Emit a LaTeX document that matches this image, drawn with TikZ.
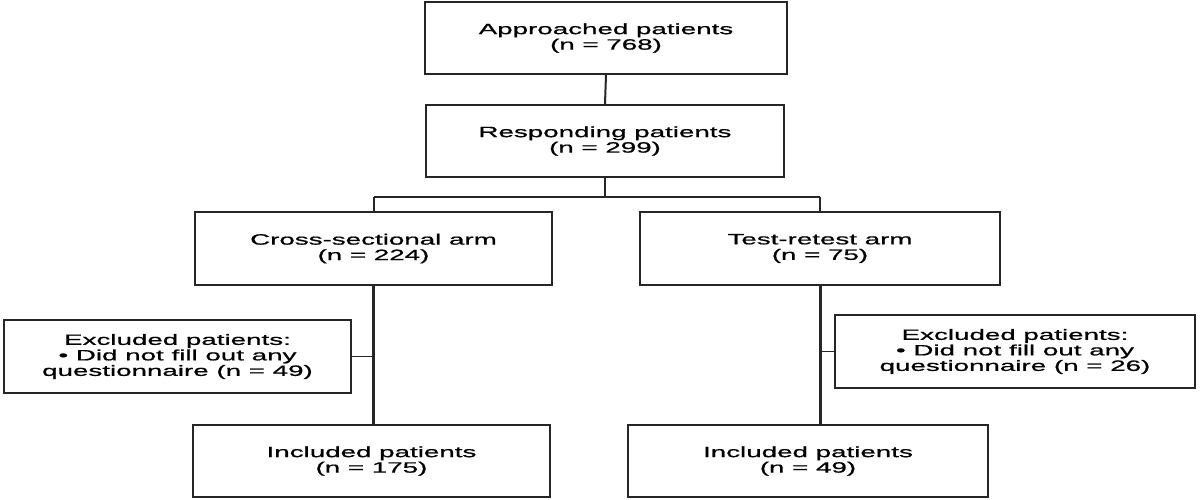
\documentclass[tikz,border=0pt]{standalone}
\usepackage{fontspec}
\setmainfont[FakeStretch=1.85,FakeBold=0.8]{Liberation Sans}
\begin{document}
\begin{tikzpicture}[x=1pt,y=-1pt,
  box/.style={draw=black!85, line width=2pt, rectangle, align=center,
    inner sep=0pt, font=\fontsize{15}{15.5}\selectfont},
  conn/.style={draw=black!85, line width=2pt},
  thick conn/.style={draw=black!85, line width=3pt},
  thin conn/.style={draw=black!85, line width=1.3pt}]
\useasboundingbox (0,0) rectangle (1200,500);
\fill[white] (0,0) rectangle (1200,500);

\node[box, minimum width=362pt, minimum height=72pt] (app) at (606,38)
  {Approached patients\\(n = 768)};
\node[box, minimum width=358pt, minimum height=72pt] (resp) at (605,141)
  {Responding patients\\(n = 299)};
\node[box, minimum width=357pt, minimum height=73pt] (cross) at (373.5,248.5)
  {Cross-sectional arm\\(n = 224)};
\node[box, minimum width=360pt, minimum height=73pt] (test) at (820,248.5)
  {Test-retest arm\\(n = 75)};
\node[box, minimum width=347pt, minimum height=73pt] (exl) at (177.5,356.5)
  {Excluded patients:\\• Did not fill out any\\questionnaire (n = 49)};
\node[box, minimum width=360pt, minimum height=73pt] (exr) at (1015,351.5)
  {Excluded patients:\\• Did not fill out any\\questionnaire (n = 26)};
\node[box, minimum width=357pt, minimum height=72pt] (incl) at (371.5,461)
  {Included patients\\(n = 175)};
\node[box, minimum width=360pt, minimum height=72pt] (incr) at (808,461)
  {Included patients\\(n = 49)};

\coordinate (split) at (605,197);
\coordinate (splitl) at (cross.north |- split);
\coordinate (splitr) at (test.north |- split);
\coordinate (bl) at (cross.south |- exl.east);
\coordinate (br) at (test.south |- exr.west);

\draw[conn] (app.south) -- (resp.north);
\draw[conn] (resp.south) -- (split);
\draw[thin conn] (splitl) -- (splitr);
\draw[conn] (splitl) -- (cross.north);
\draw[conn] (splitr) -- (test.north);
\draw[thick conn] (cross.south) -- (cross.south |- incl.north);
\draw[thick conn] (test.south) -- (test.south |- incr.north);
\draw[thin conn] (bl) -- (exl.east);
\draw[thin conn] (br) -- (exr.west);
\end{tikzpicture}
\end{document}
